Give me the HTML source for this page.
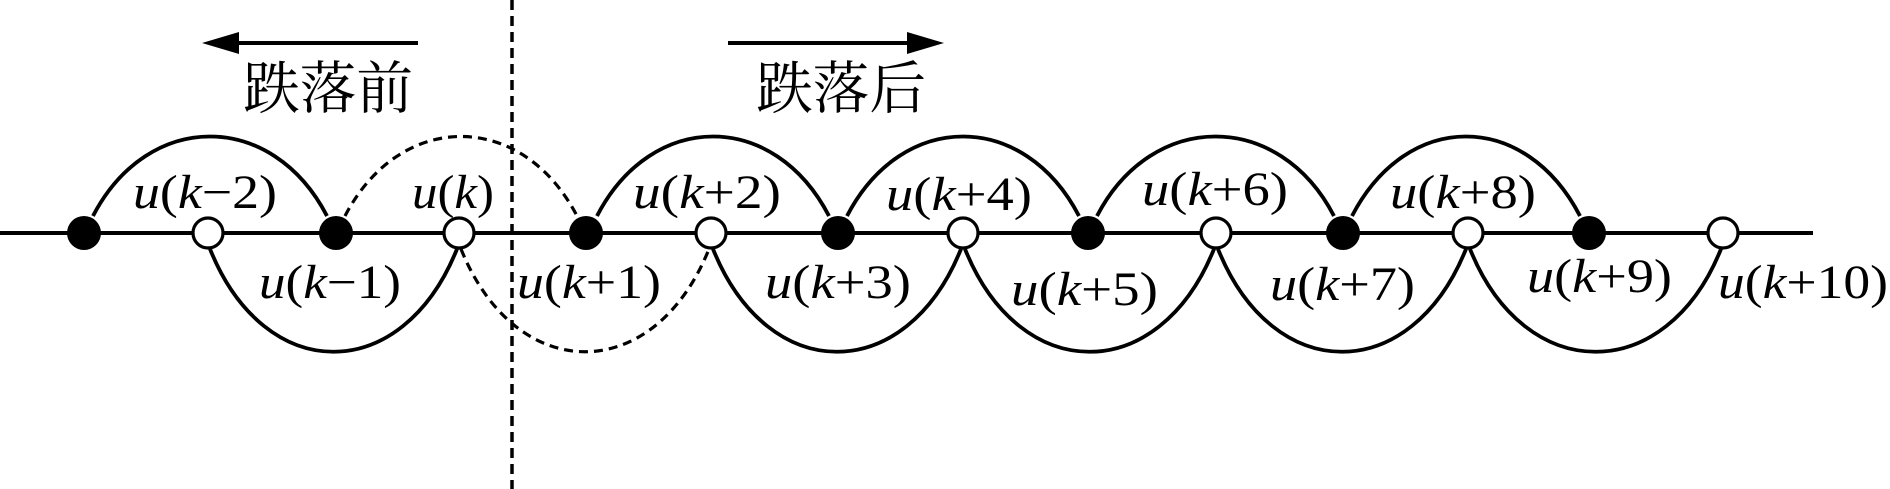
<!DOCTYPE html>
<html><head><meta charset="utf-8"><style>
html,body{margin:0;padding:0;background:#fff;}
svg{display:block;}
.l{font-family:"Liberation Serif","Times New Roman",serif;font-size:48px;fill:#000;}
.i{font-style:italic;}
.c{font-family:"Noto Serif CJK SC","Liberation Serif",serif;font-size:57px;fill:#000;}
</style></head><body>
<svg width="1890" height="489" viewBox="0 0 1890 489" xmlns="http://www.w3.org/2000/svg">
<line x1="512" y1="0" x2="512" y2="489" stroke="#000" stroke-width="3.5" stroke-dasharray="10,6"/>
<line x1="236" y1="43" x2="418" y2="43" stroke="#000" stroke-width="4"/>
<polygon points="202,43 239,32 239,54" fill="#000"/>
<line x1="728" y1="43" x2="910" y2="43" stroke="#000" stroke-width="4"/>
<polygon points="944,43 907,32 907,54" fill="#000"/>
<text class="c" x="243" y="108" textLength="170" lengthAdjust="spacingAndGlyphs">跌落前</text>
<text class="c" x="756" y="108" textLength="170" lengthAdjust="spacingAndGlyphs">跌落后</text>
<line x1="0" y1="233" x2="1813" y2="233" stroke="#000" stroke-width="4"/>
<g fill="none" stroke="#000" stroke-width="3.8">
<path d="M93 216 C148 110 272 110 327 216"/>
<path d="M597 216 C652 110 774 110 829 216"/>
<path d="M847 216 C902 110 1024 110 1079 216"/>
<path d="M1097 216 C1152 110 1279 110 1334 216"/>
<path d="M1352 216 C1407 110 1525 110 1580 216"/>
<path d="M210 249 C265 386 402 386 457 249"/>
<path d="M713 249 C768 386 906 386 961 249"/>
<path d="M965 249 C1020 386 1159 386 1214 249"/>
<path d="M1218 249 C1273 386 1411 386 1466 249"/>
<path d="M1470 249 C1525 386 1666 386 1721 249"/>
</g>
<g fill="none" stroke="#000" stroke-width="3.2" stroke-dasharray="9,6">
<path d="M345 216 C400 110 522 110 577 216"/>
<path d="M461 249 C516 386 654 386 709 249"/>
</g>
<g fill="#000">
<circle cx="84" cy="233" r="17"/><circle cx="336" cy="233" r="17"/><circle cx="586" cy="233" r="17"/>
<circle cx="838" cy="233" r="17"/><circle cx="1088" cy="233" r="17"/><circle cx="1343" cy="233" r="17"/>
<circle cx="1589" cy="233" r="17"/>
</g>
<g fill="#fff" stroke="#000" stroke-width="3.2">
<circle cx="208" cy="233" r="15"/><circle cx="459" cy="233" r="15"/><circle cx="711" cy="233" r="15"/>
<circle cx="963" cy="233" r="15"/><circle cx="1216" cy="233" r="15"/><circle cx="1468" cy="233" r="15"/>
<circle cx="1723" cy="233" r="15"/>
</g>
<text class="l" x="133" y="208" textLength="144" lengthAdjust="spacingAndGlyphs"><tspan class="i">u</tspan>(<tspan class="i">k</tspan>−2)</text>
<text class="l" x="412" y="208" textLength="82" lengthAdjust="spacingAndGlyphs"><tspan class="i">u</tspan>(<tspan class="i">k</tspan>)</text>
<text class="l" x="633" y="208" textLength="148" lengthAdjust="spacingAndGlyphs"><tspan class="i">u</tspan>(<tspan class="i">k</tspan>+2)</text>
<text class="l" x="886" y="210" textLength="146" lengthAdjust="spacingAndGlyphs"><tspan class="i">u</tspan>(<tspan class="i">k</tspan>+4)</text>
<text class="l" x="1142" y="205" textLength="146" lengthAdjust="spacingAndGlyphs"><tspan class="i">u</tspan>(<tspan class="i">k</tspan>+6)</text>
<text class="l" x="1390" y="208" textLength="146" lengthAdjust="spacingAndGlyphs"><tspan class="i">u</tspan>(<tspan class="i">k</tspan>+8)</text>
<text class="l" x="259" y="298" textLength="142" lengthAdjust="spacingAndGlyphs"><tspan class="i">u</tspan>(<tspan class="i">k</tspan>−1)</text>
<text class="l" x="517" y="298" textLength="144" lengthAdjust="spacingAndGlyphs"><tspan class="i">u</tspan>(<tspan class="i">k</tspan>+1)</text>
<text class="l" x="765" y="298" textLength="146" lengthAdjust="spacingAndGlyphs"><tspan class="i">u</tspan>(<tspan class="i">k</tspan>+3)</text>
<text class="l" x="1011" y="305" textLength="147" lengthAdjust="spacingAndGlyphs"><tspan class="i">u</tspan>(<tspan class="i">k</tspan>+5)</text>
<text class="l" x="1270" y="300" textLength="145" lengthAdjust="spacingAndGlyphs"><tspan class="i">u</tspan>(<tspan class="i">k</tspan>+7)</text>
<text class="l" x="1527" y="292" textLength="145" lengthAdjust="spacingAndGlyphs"><tspan class="i">u</tspan>(<tspan class="i">k</tspan>+9)</text>
<text class="l" x="1718" y="298" textLength="170" lengthAdjust="spacingAndGlyphs"><tspan class="i">u</tspan>(<tspan class="i">k</tspan>+10)</text>
</svg>
</body></html>
